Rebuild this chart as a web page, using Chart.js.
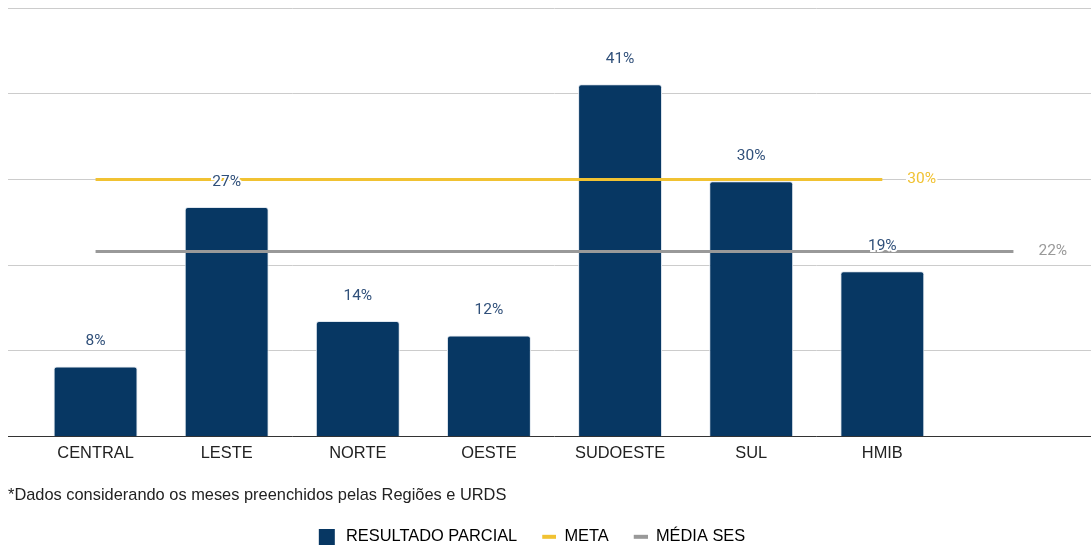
<!DOCTYPE html>
<html>
<head>
<meta charset="utf-8">
<script src="https://cdn.jsdelivr.net/npm/chart.js@4.4.1/dist/chart.umd.min.js"></script>
<style>
  html, body { margin: 0; padding: 0; background: #ffffff; }
  #wrap { position: relative; width: 1091px; height: 547px; }
</style>
</head>
<body>
<div id="wrap"><canvas id="c" width="1091" height="547"></canvas></div>
<script>
const categories = ['CENTRAL', 'LESTE', 'NORTE', 'OESTE', 'SUDOESTE', 'SUL', 'HMIB', ''];
const resultadoParcial = [8.2, 26.8, 13.5, 11.8, 41.1, 29.8, 19.3, null];
const meta = [30, 30, 30, 30, 30, 30, 30, null];
const mediaSes = [21.6, 21.6, 21.6, 21.6, 21.6, 21.6, 21.6, 21.6];
const yTicks = [0, 10, 20, 30, 40, 50];
const seriesNames = ['RESULTADO PARCIAL', 'META', 'MÉDIA SES'];
const footnote = '*Dados considerando os meses preenchidos pelas Regiões e URDS';

const NAVY = '#073763', GOLD = '#f1c232', GRAY = '#999999';
const SANS = '"Liberation Sans", Arial, sans-serif';
const FS = 16.4;

function swatch(w, h, x0, mw, mh, color) {
  const cv = document.createElement('canvas');
  cv.width = w; cv.height = h;
  const g = cv.getContext('2d');
  g.fillStyle = color; g.fillRect(x0, (h - mh) / 2, mw, mh);
  return cv;
}
const swatches = [
  swatch(22, 16, 3, 16, 16, NAVY),
  swatch(22, 16, 8, 14, 4, GOLD),
  swatch(22, 16, 8, 14, 4, GRAY)
];

const valueLabels = {
  id: 'valueLabels',
  afterDatasetsDraw(chart) {
    const ctx = chart.ctx;
    ctx.save();
    ctx.textAlign = 'center';
    ctx.textBaseline = 'middle';
    ctx.font = '15.5px Roboto';
    const barMeta = chart.getDatasetMeta(0);
    barMeta.data.forEach((el, i) => {
      const v = resultadoParcial[i];
      if (v == null) return;
      const txt = Math.round(v) + '%';
      ctx.lineWidth = 4;
      ctx.strokeStyle = '#ffffff';
      ctx.strokeText(txt, el.x, el.y - 25);
      ctx.fillStyle = '#30507a';
      ctx.fillText(txt, el.x, el.y - 25);
    });
    [[1, meta, GOLD], [2, mediaSes, GRAY]].forEach(([di, arr, col]) => {
      const m = chart.getDatasetMeta(di);
      let last = -1;
      arr.forEach((v, i) => { if (v != null) last = i; });
      const el = m.data[last];
      const txt = Math.round(arr[last]) + '%';
      ctx.textAlign = 'left';
      ctx.lineWidth = 4;
      ctx.strokeStyle = '#ffffff';
      ctx.strokeText(txt, el.x + 25, el.y);
      ctx.fillStyle = col;
      ctx.fillText(txt, el.x + 25, el.y);
    });
    ctx.restore();
  }
};

const legendShift = {
  id: 'legendShift',
  afterLayout(chart) {
    const l = chart.legend;
    if (l) { l.left -= 19; l.right -= 19; }
  }
};

new Chart(document.getElementById('c'), {
  data: {
    labels: categories,
    datasets: [
      {
        type: 'bar', label: seriesNames[0], data: resultadoParcial,
        backgroundColor: NAVY, borderColor: '#dfe6ee', borderWidth: 1,
        borderSkipped: 'bottom', borderRadius: { topLeft: 3, topRight: 3 },
        categoryPercentage: 1, barPercentage: 0.64, order: 2
      },
      {
        type: 'line', label: seriesNames[1], data: meta,
        borderColor: GOLD, backgroundColor: GOLD, borderWidth: 3,
        pointRadius: 0, tension: 0, order: 1, spanGaps: false
      },
      {
        type: 'line', label: seriesNames[2], data: mediaSes,
        borderColor: GRAY, backgroundColor: GRAY, borderWidth: 3,
        pointRadius: 0, tension: 0, order: 0
      }
    ]
  },
  options: {
    responsive: false,
    animation: false,
    devicePixelRatio: 1,
    layout: { padding: { left: 8, right: 0, top: 8, bottom: -8 } },
    scales: {
      x: {
        offset: true,
        grid: { display: false, drawTicks: false },
        border: { display: false },
        ticks: { color: '#222222', font: { family: SANS, size: FS }, padding: 7, maxRotation: 0, autoSkip: false }
      },
      y: {
        min: 0, max: 50,
        afterBuildTicks(scale) { scale.ticks = yTicks.map(v => ({ value: v })); },
        grid: {
          color: c => (c.tick && c.tick.value === 0) ? '#333333' : '#cccccc',
          lineWidth: 1, drawTicks: true, tickLength: 22,
          tickColor: c => (c.tick && c.tick.value === 0) ? '#333333' : '#cccccc'
        },
        border: { display: false },
        ticks: { display: false }
      },
      y2: {
        position: 'right', min: 0, max: 50,
        afterBuildTicks(scale) { scale.ticks = yTicks.map(v => ({ value: v })); },
        grid: {
          drawOnChartArea: false, drawTicks: true, tickLength: 12,
          tickColor: c => (c.tick && c.tick.value === 0) ? '#333333' : '#cccccc'
        },
        border: { display: false },
        ticks: { display: false }
      }
    },
    plugins: {
      tooltip: { enabled: false },
      title: {
        display: true, position: 'bottom', align: 'start', weight: 500,
        text: footnote, color: '#222222',
        font: { family: SANS, size: FS, weight: 'normal' },
        padding: { top: 15.5, bottom: 6 }
      },
      legend: {
        position: 'bottom', align: 'center',
        labels: {
          usePointStyle: true, pointStyleWidth: 22, boxWidth: 22, boxHeight: 16, padding: 17,
          color: '#222222', font: { family: SANS, size: FS },
          generateLabels: () => seriesNames.map((n, i) => ({
            text: n, pointStyle: swatches[i], fillStyle: 'rgba(0,0,0,0)',
            strokeStyle: 'rgba(0,0,0,0)', lineWidth: 0, datasetIndex: i, hidden: false
          }))
        }
      }
    }
  },
  plugins: [valueLabels, legendShift]
});
</script>
</body>
</html>
